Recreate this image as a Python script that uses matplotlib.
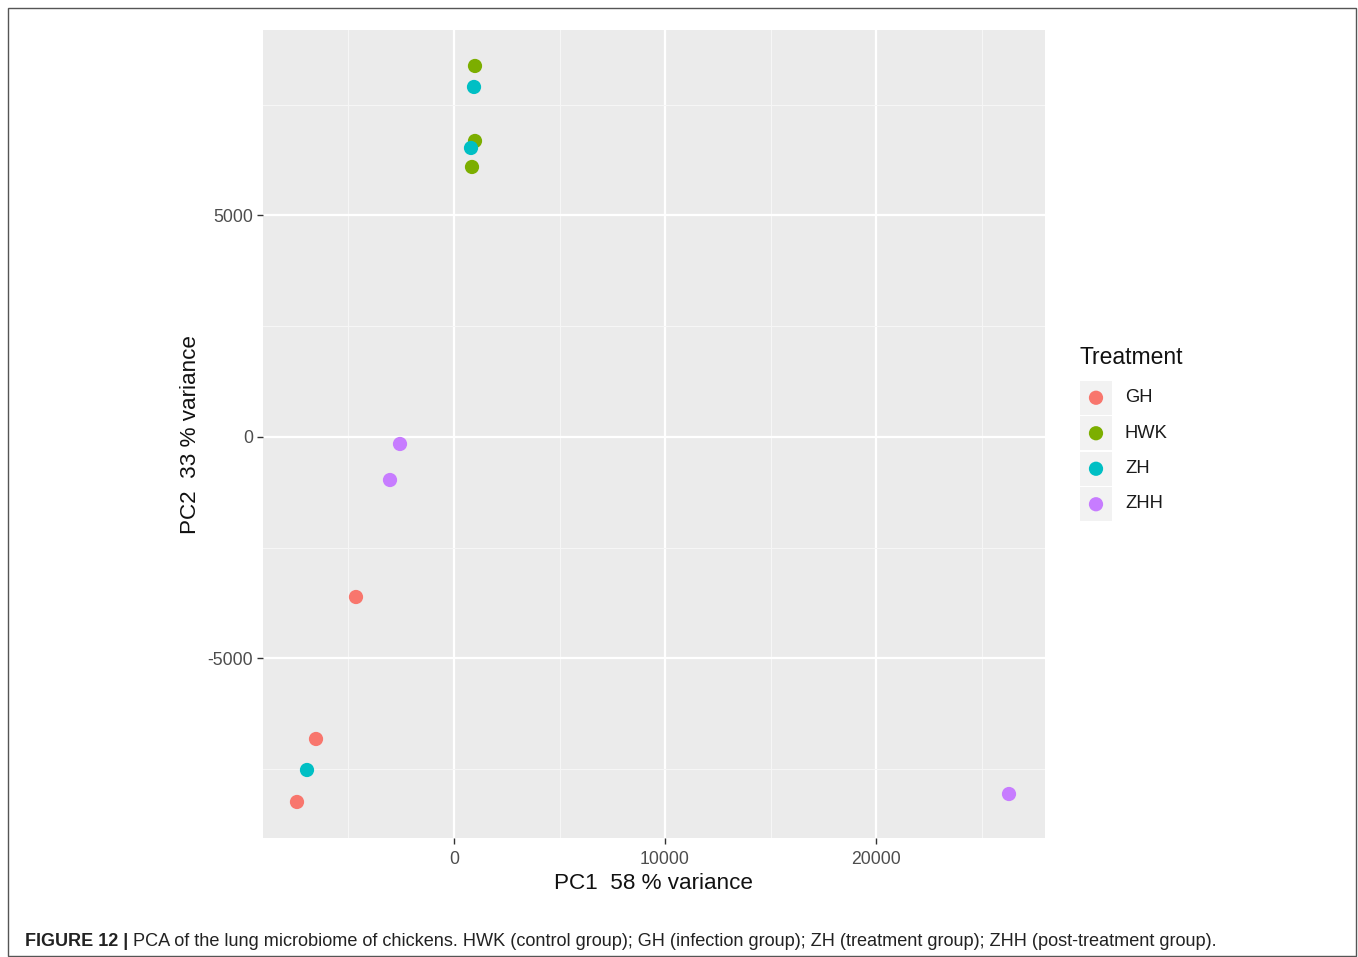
import matplotlib
matplotlib.use("Agg")
import matplotlib.pyplot as plt
from matplotlib.patches import Rectangle

plt.rcParams['font.family'] = ['Liberation Sans', 'DejaVu Sans']

# ---- data ----
groups = ["GH", "HWK", "ZH", "ZHH"]
colors = ["#F8766D", "#7CAE00", "#00BFC4", "#C77CFF"]
pc1 = {
    "GH":  [-4645, -6540, -7441],
    "HWK": [995, 995, 853],
    "ZH":  [948, 806, -6967],
    "ZHH": [-2559, -3033, 26303],
}
pc2 = {
    "GH":  [-3612, -6817, -8239],
    "HWK": [8375, 6682, 6095],
    "ZH":  [7901, 6524, -7517],
    "ZHH": [-158, -971, -8059],
}
xticks = [0, 10000, 20000]
yticks = [-5000, 0, 5000]
xminor = [-5000, 5000, 15000, 25000]
yminor = [-7500, -2500, 2500, 7500]
xlabel = "PC1  58 % variance"
ylabel = "PC2  33 % variance"
legend_title = "Treatment"
caption_bold = "FIGURE 12 |"
caption_rest = (" PCA of the lung microbiome of chickens. HWK (control group); GH (infection group); "
                "ZH (treatment group); ZHH (post-treatment group).")

W, H = 1358, 957
fig = plt.figure(figsize=(W / 100, H / 100), dpi=100)

def fx(px):
    return px / W

def fy(py):
    return 1 - py / H

# outer frame
fig.add_artist(Rectangle((fx(8), fy(956)), fx(1356) - fx(8), fy(8) - fy(956),
                         transform=fig.transFigure, fill=False, ec="#555555", lw=1.0))

ax = fig.add_axes([fx(263), fy(838), fx(1045) - fx(263), fy(30) - fy(838)])
ax.set_facecolor("#EBEBEB")
for s in ax.spines.values():
    s.set_visible(False)

ax.set_xlim(-9052, 28009)
ax.set_ylim(-9052, 9187)
ax.set_xticks(xticks)
ax.set_yticks(yticks)
ax.set_xticks(xminor, minor=True)
ax.set_yticks(yminor, minor=True)
ax.grid(True, which="major", color="white", lw=1.6)
ax.grid(True, which="minor", color="#F7F7F7", lw=0.7)
ax.set_axisbelow(True)
ax.tick_params(which="major", length=4, width=1, color="#333333", labelcolor="#4D4D4D",
               labelsize=12.7)
ax.tick_params(axis="x", which="major", pad=5)
ax.tick_params(axis="y", which="major", pad=3)
ax.tick_params(which="minor", length=0)
ax.set_xticklabels([str(v) for v in xticks])
ax.set_yticklabels([str(v) for v in yticks])

for g, c in zip(groups, colors):
    ax.scatter(pc1[g], pc2[g], s=105, color=c, edgecolors="none", zorder=3)

ax.set_xlabel(xlabel, fontsize=16.2, color="#111111", labelpad=4)
ax.set_ylabel(ylabel, fontsize=16.2, color="#111111", labelpad=5)

# legend
fig.text(fx(1079), fy(358), legend_title, fontsize=16.5, va="center", ha="left", color="#111111")
lax = fig.add_axes([fx(1080), fy(522), fx(1112) - fx(1080), fy(380) - fy(522)])
lax.set_xlim(0, 1)
lax.set_ylim(len(groups), 0)
lax.axis("off")
for i, (g, c) in enumerate(zip(groups, colors)):
    lax.add_patch(Rectangle((0, i + 0.02), 1, 0.96, color="#F2F2F2", ec="none"))
    lax.scatter([0.5], [i + 0.5], s=105, color=c, edgecolors="none")
    fig.text(fx(1125), fy(398 + i * 35.3), g, fontsize=13.2, va="center", ha="left", color="#1A1A1A")

# caption
t = fig.text(fx(25), fy(941), caption_bold, fontsize=13, fontweight="bold", va="center", ha="left",
             color="#222222")
fig.canvas.draw()
bb = t.get_window_extent()
fig.text(bb.x1 / W, fy(941), caption_rest, fontsize=13.05, va="center", ha="left", color="#222222")

fig.savefig("out.png", dpi=100)
